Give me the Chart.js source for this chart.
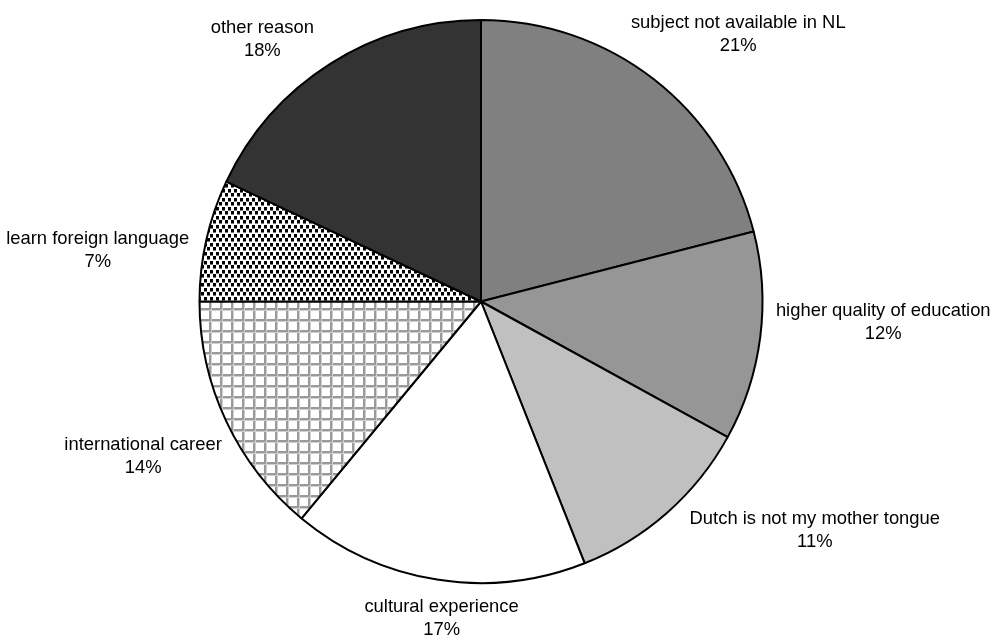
<!DOCTYPE html>
<html>
<head>
<meta charset="utf-8">
<script src="https://cdn.jsdelivr.net/npm/chart.js@4/dist/chart.umd.min.js"></script>
<style>
  html, body { margin: 0; padding: 0; background: #ffffff; }
  #wrap { width: 991px; height: 635px; position: relative; }
</style>
</head>
<body>
<div id="wrap"><canvas id="pie"></canvas></div>
<script>
// Reasons for studying abroad (share of respondents, %)
const reasons = [
  'subject not available in NL',
  'higher quality of education',
  'Dutch is not my mother tongue',
  'cultural experience',
  'international career',
  'learn foreign language',
  'other reason'
];
const shares = [21, 12, 11, 17, 14, 7, 18];

// Fill helpers: plain greys plus two hatched textures
function gridPattern() {
  const c = document.createElement('canvas');
  c.width = 11; c.height = 11;
  const g = c.getContext('2d');
  g.fillStyle = '#ffffff';
  g.fillRect(0, 0, 11, 11);
  g.fillStyle = '#9a9a9a';
  g.fillRect(0, 0, 11, 2);
  g.fillRect(0, 0, 2, 11);
  g.fillStyle = '#cfcfcf';
  g.fillRect(0, 2, 11, 1);
  g.fillRect(2, 0, 1, 11);
  return g.createPattern(c, 'repeat');
}
function dotPattern() {
  const c = document.createElement('canvas');
  c.width = 6; c.height = 9;
  const g = c.getContext('2d');
  g.fillStyle = '#ffffff';
  g.fillRect(0, 0, 6, 9);
  g.fillStyle = '#000000';
  g.fillRect(0, 0, 3, 3);
  g.fillRect(3, 4, 3, 3);
  g.fillStyle = '#777777';
  g.fillRect(0, 3, 3, 1);
  g.fillRect(3, 7, 3, 1);
  return g.createPattern(c, 'repeat');
}

const fills = ['#808080', '#969696', '#c0c0c0', '#ffffff', gridPattern(), dotPattern(), '#333333'];

const FONT_PX = 18.4;
const LINE_H = 23;
const LABEL_TURN = -3.5 * Math.PI / 180; // labels sit slightly counter-clockwise of each slice centre

// Draws "name / NN%" outside each slice, pushed away from the rim
const outsideLabels = {
  id: 'outsideLabels',
  afterDatasetsDraw(chart) {
    const ctx = chart.ctx;
    const meta = chart.getDatasetMeta(0);
    const data = chart.data.datasets[0].data;
    const total = data.reduce((a, b) => a + b, 0);
    ctx.save();
    ctx.font = FONT_PX + 'px "Liberation Sans", Arial, sans-serif';
    ctx.fillStyle = '#000000';
    ctx.textAlign = 'center';
    ctx.textBaseline = 'middle';
    const clamp = v => Math.max(-1, Math.min(1, v));
    meta.data.forEach((arc, i) => {
      const p = arc.getProps(['x', 'y', 'startAngle', 'endAngle', 'outerRadius'], true);
      const mid = (p.startAngle + p.endAngle) / 2 + LABEL_TURN;
      const ux = Math.cos(mid), uy = Math.sin(mid);
      const lines = [chart.data.labels[i], Math.round(data[i] / total * 100) + '%'];
      const w = Math.max(...lines.map(t => ctx.measureText(t).width));
      const h = lines.length * LINE_H;
      const R = p.outerRadius + 14;
      const cx = p.x + ux * R + clamp(ux * 1.5) * w / 2;
      const cy = p.y + uy * R + clamp(uy * 1.2) * h / 2;
      lines.forEach((t, k) => {
        ctx.fillText(t, cx, cy - h / 2 + LINE_H / 2 + k * LINE_H);
      });
    });
    ctx.restore();
  }
};

new Chart(document.getElementById('pie'), {
  type: 'pie',
  data: {
    labels: reasons,
    datasets: [{
      data: shares,
      backgroundColor: fills,
      borderColor: '#000000',
      borderWidth: 2,
      hoverOffset: 0
    }]
  },
  options: {
    responsive: true,
    maintainAspectRatio: false,
    animation: false,
    layout: { padding: { left: 0, right: 29, top: 19, bottom: 51 } },
    plugins: {
      legend: { display: false },
      tooltip: { enabled: false }
    }
  },
  plugins: [outsideLabels]
});
</script>
</body>
</html>
